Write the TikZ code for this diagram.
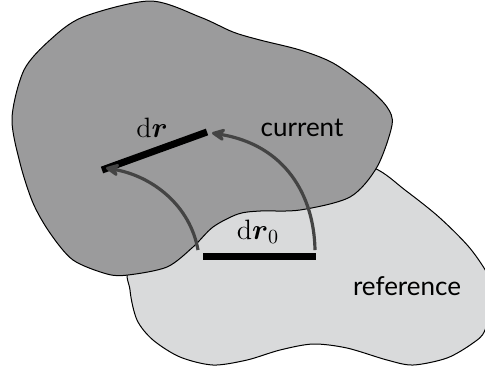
\documentclass[tikz,border=0pt]{standalone}
\usepackage{amsmath,amssymb}
\usepackage{fontspec}
\newfontfamily\labelfont{Lato}
\usetikzlibrary{arrows.meta}
\definecolor{curgray}{HTML}{9B9B9C}
\definecolor{refgray}{HTML}{D9DADB}
\definecolor{maparrow}{HTML}{444444}

\begin{document}
\begin{tikzpicture}[x=.5pt,y=-.5pt,line join=round,
  body/.style={draw=black,line width=.5pt},
  elem/.style={line width=3.5pt},
  map/.style={maparrow,line width=1.6pt,-{Stealth[length=8.5pt,width=8pt,round]}},
  lbl/.style={font=\fontsize{14}{16}\selectfont}]
\useasboundingbox(0,0)rectangle(485,372);
% reference configuration (behind)
\draw[body,fill=refgray]plot[smooth cycle]coordinates{(374,168)(405,190)(440,218)(473,252)(494,290)(485,330)(473,343)(447,358)(413,365)(387,360)(347,348)(313,344)(280,350)(247,360)(213,365)(180,357)(153,340)(137,320)(130,290)(132,262)(200,205)(320,155)};
% current configuration
\draw[body,fill=curgray]plot[smooth cycle]coordinates{(150,1)(200,17)(233,32)(260,40)(300,50)(333,63)(367,87)(387,107)(392,125)(377,167)(350,197)(300,210)(260,211)(238,214)(213,227)(193,247)(167,267)(128,275)(107,274)(73,260)(50,233)(33,203)(20,163)(12,118)(24,70)(50,40)(83,17)};
% line elements
\coordinate(a0)at(203,256);\coordinate(b0)at(316,256);
\coordinate(a)at(102,170);\coordinate(b)at(207,132);
\draw[elem](a0)--(b0);\draw[elem](a)--(b);
\draw[map]([shift={(-5,-6)}]a0)..controls(190,205)and(152,176)..([shift={(4,-2)}]a);
\draw[map]([shift={(-1,-6)}]b0)..controls(314,195)and(285,145)..([shift={(5,1)}]b);
% labels
\node[lbl](drlab)at(152,128){$\mathrm{d}\boldsymbol{r}$};
\node[lbl](dr0lab)at(258,232){$\mathrm{d}\boldsymbol{r}_0$};
\node[lbl,font=\labelfont\fontsize{13}{15}\selectfont](curlab)at(302,128){current};
\node[lbl,font=\labelfont\fontsize{13}{15}\selectfont](reflab)at(407,286){reference};
\end{tikzpicture}
\end{document}
